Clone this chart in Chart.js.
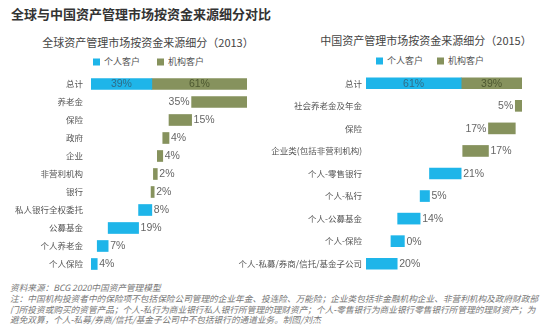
<!DOCTYPE html>
<html>
<head>
<meta charset="utf-8">
<script src="https://cdn.jsdelivr.net/npm/chart.js@4"></script>
<style>
  body { margin: 0; background: #fff; font-family: "Noto Sans CJK SC", "Noto Sans", sans-serif; }
  #page { position: relative; width: 550px; height: 331px; overflow: hidden; }
  .abs { position: absolute; white-space: nowrap; }
  .mid { transform: translate(-50%, -50%); }
  .title { left: 11px; top: 13px; transform: translateY(-50%); font-size: 13px; font-weight: bold; color: #333; }
  .sub { font-size: 11px; color: #444; }
  .leg { font-size: 9px; color: #555; transform: translateY(-50%); }
  .sq { display: inline-block; width: 7px; height: 7px; margin-right: 4px; vertical-align: -0.5px; }
  .note { left: 10px; font-size: 8.66px; color: #777; font-style: italic; transform: translateY(-50%); }
  .box { position: absolute; }
</style>
</head>
<body>
<div id="page">
  <div class="abs title">全球与中国资产管理市场按资金来源细分对比</div>

  <div class="abs sub mid" style="left:148px; top:42px;">全球资产管理市场按资金来源细分（2013）</div>
  <div class="abs leg" style="left:93px; top:61px;"><span class="sq" style="background:#1eb5e9"></span>个人客户</div>
  <div class="abs leg" style="left:157px; top:61px;"><span class="sq" style="background:#86925d"></span>机构客户</div>

  <div class="abs sub mid" style="left:426px; top:40px;">中国资产管理市场按资金来源细分（2015）</div>
  <div class="abs leg" style="left:376px; top:60px;"><span class="sq" style="background:#1eb5e9"></span>个人客户</div>
  <div class="abs leg" style="left:437px; top:60px;"><span class="sq" style="background:#86925d"></span>机构客户</div>

  <div class="box" style="left:0; top:75px; width:275px; height:198px;"><canvas id="c2013"></canvas></div>
  <div class="box" style="left:238px; top:72px; width:312px; height:203px;"><canvas id="c2015"></canvas></div>

  <div class="abs note" style="top:287px;">资料来源：BCG 2020中国资产管理模型</div>
  <div class="abs note" style="top:297.5px;">注：中国机构投资者中的保险项不包括保险公司管理的企业年金、投连险、万能险；企业类包括非金融机构企业、非营利机构及政府财政部</div>
  <div class="abs note" style="top:308.5px;">门所投资或购买的资管产品；个人-私行为商业银行私人银行所管理的理财资产；个人-零售银行为商业银行零售银行所管理的理财资产；为</div>
  <div class="abs note" style="top:319px;">避免双算，个人-私募/券商/信托/基金子公司中不包括银行的通道业务。制图/刘杰</div>
</div>

<script>
// 2013 global
const cats2013 = ['总计', '养老金', '保险', '政府', '企业', '非营利机构', '银行', '私人银行全权委托', '公募基金', '个人养老金', '个人保险'];
const retail2013 = [[0, 39], null, null, null, null, null, null, [30.5, 39], [11, 30.5], [4, 11], [0, 4]];
const inst2013 = [[39, 100], [64.5, 100], [50, 64.5], [46, 50], [42.5, 46], [40, 42.5], [38.5, 40.5], null, null, null, null];
const retailPct2013 = [39, null, null, null, null, null, null, 8, 19, 7, 4];
const instPct2013 = [61, 35, 15, 4, 4, 2, 2, null, null, null, null];

// 2015 China
const cats2015 = ['总计', '社会养老金及年金', '保险', '企业类(包括非营利机构)', '个人-零售银行', '个人-私行', '个人-公募基金', '个人-保险', '个人-私募/券商/信托/基金子公司'];
const retail2015 = [[0, 61], null, null, null, [40.7, 61], [34.7, 40.7], [20.3, 34.7], [16, 24.6], [0, 20]];
const inst2015 = [[61, 100], [95.7, 100], [78.5, 95.7], [62, 78.5], null, null, null, null, null];
const retailPct2015 = [61, null, null, null, 21, 5, 14, 0, 20];
const instPct2015 = [39, 5, 17, 17, null, null, null, null, null];

const BLUE = '#1eb5e9';
const GREEN = '#86925d';

// where each % label goes: in / left / right
const pctLabels = {
  id: 'pctLabels',
  afterDatasetsDraw(chart) {
    const ctx = chart.ctx;
    ctx.save();
    ctx.font = '10.5px "Liberation Sans", Arial, sans-serif';
    ctx.textBaseline = 'middle';
    chart.data.datasets.forEach((ds, di) => {
      const meta = chart.getDatasetMeta(di);
      meta.data.forEach((bar, i) => {
        const v = ds.pct[i];
        if (v == null) return;
        const p = bar.getProps(['x', 'base', 'y'], true);
        const lo = Math.min(p.x, p.base), hi = Math.max(p.x, p.base);
        const side = ds.side[i];
        const txt = v + '%';
        if (side === 'in') {
          ctx.fillStyle = ds.inColor;
          ctx.textAlign = 'center';
          ctx.fillText(txt, (lo + hi) / 2, p.y + 0.5);
        } else if (side === 'left') {
          ctx.fillStyle = '#666';
          ctx.textAlign = 'right';
          ctx.fillText(txt, lo - 2, p.y + 0.5);
        } else {
          ctx.fillStyle = '#666';
          ctx.textAlign = 'left';
          ctx.fillText(txt, hi + 2, p.y + 0.5);
        }
      });
    });
    ctx.restore();
  }
};

function makeChart(id, cats, retail, inst, retailPct, instPct, retailSide, instSide, axisW, tickPad) {
  return new Chart(document.getElementById(id), {
    type: 'bar',
    data: {
      labels: cats,
      datasets: [
        { label: '个人客户', data: retail, backgroundColor: BLUE, grouped: false, barThickness: 11,
          pct: retailPct, side: retailSide, inColor: '#2f6d88' },
        { label: '机构客户', data: inst, backgroundColor: GREEN, grouped: false, barThickness: 11,
          pct: instPct, side: instSide, inColor: '#4d5830' }
      ]
    },
    options: {
      indexAxis: 'y',
      responsive: true,
      maintainAspectRatio: false,
      animation: false,
      layout: { padding: { top: 0, bottom: 0, left: 0, right: 28 } },
      plugins: { legend: { display: false }, tooltip: { enabled: false } },
      scales: {
        x: { display: false, min: 0, max: 100 },
        y: {
          grid: { display: false, drawTicks: false },
          border: { display: false },
          ticks: {
            autoSkip: false,
            padding: tickPad,
            color: '#555',
            font: { size: 8.5, family: '"Noto Sans CJK SC", sans-serif' }
          },
          afterFit(scale) {
            scale.width = axisW;
            scale.paddingTop = 0;
            scale.paddingBottom = 0;
          }
        }
      }
    },
    plugins: [pctLabels]
  });
}

makeChart('c2013', cats2013, retail2013, inst2013, retailPct2013, instPct2013,
  ['in', 'right', 'right', 'right', 'right', 'right', 'right', 'right', 'right', 'right', 'right'],
  ['in', 'left', 'right', 'right', 'right', 'right', 'right', 'right', 'right', 'right', 'right'],
  91, 8);

makeChart('c2015', cats2015, retail2015, inst2015, retailPct2015, instPct2015,
  ['in', 'right', 'right', 'right', 'right', 'right', 'right', 'right', 'right'],
  ['in', 'left', 'left', 'right', 'right', 'right', 'right', 'right', 'right'],
  128, 4);
</script>
</body>
</html>
